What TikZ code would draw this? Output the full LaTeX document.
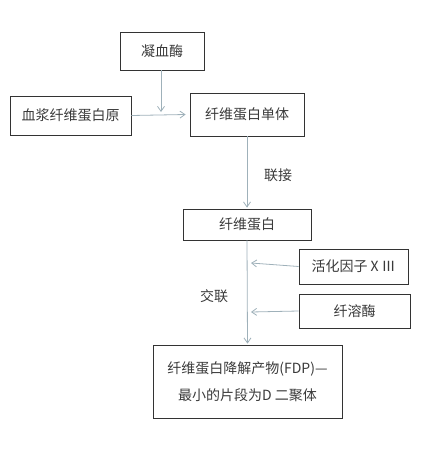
\documentclass[tikz,border=0pt]{standalone}
\usepackage{fontspec}
\setmainfont{Noto Sans CJK SC}
\usetikzlibrary{arrows.meta}
\definecolor{linegray}{HTML}{9FB1BA}
\definecolor{textgray}{HTML}{3A3A3A}
\tikzset{
 box/.style={draw=black!80,line width=0.8pt,rectangle,text=textgray,font=\fontsize{14}{17}\selectfont},
 flow/.style={draw=linegray,line width=0.8pt,-{Straight Barb[length=5pt,width=7pt]}},
 lbl/.style={text=textgray,font=\fontsize{14}{17}\selectfont}
}
\begin{document}
\begin{tikzpicture}[x=1pt,y=-1pt]
 \useasboundingbox (0,0) rectangle (428,463);
 % boxes
 \node[box,minimum width=84pt,minimum height=38pt] (thr) at (162,51) {凝血酶};
 \node[box,minimum width=121pt,minimum height=39pt] (fbg) at (70.5,115.5) {血浆纤维蛋白原};
 \node[box,minimum width=114pt,minimum height=43pt] (mono) at (247,114.5) {纤维蛋白单体};
 \node[box,minimum width=128pt,minimum height=31pt] (fib) at (247,224.5) {纤维蛋白};
 \node[box,minimum width=109pt,minimum height=35pt] (f13) at (353.5,266.5) {活化因子ⅩⅢ};
 \node[box,minimum width=111pt,minimum height=34pt] (plas) at (354.5,311) {纤溶酶};
 \node[box,minimum width=189pt,minimum height=73pt,align=center] (fdp) at (247.5,381.5)
  {纤维蛋白降解产物(FDP)—\\[10pt]最小的片段为D 二聚体};
 % end points on the lines
 \coordinate (join) at (161,112);
 \coordinate (hitA) at (251,263);
 \coordinate (hitB) at (251,312);
 % connectors
 \draw[flow] (thr.south -| join) -- (join);
 \draw[flow] (fbg.east) -- ([xshift=-4pt]mono.west);
 \draw[flow] (mono.south) -- ([yshift=1pt]fib.north);
 \draw[flow] (fib.south) -- ([yshift=1pt]fdp.north);
 \draw[flow] (f13.west) -- (hitA);
 \draw[flow] (plas.west) -- (hitB);
 % labels
 \node[lbl] (lian) at (278,175) {联接};
 \node[lbl] (jiao) at (214,296) {交联};
\end{tikzpicture}
\end{document}
